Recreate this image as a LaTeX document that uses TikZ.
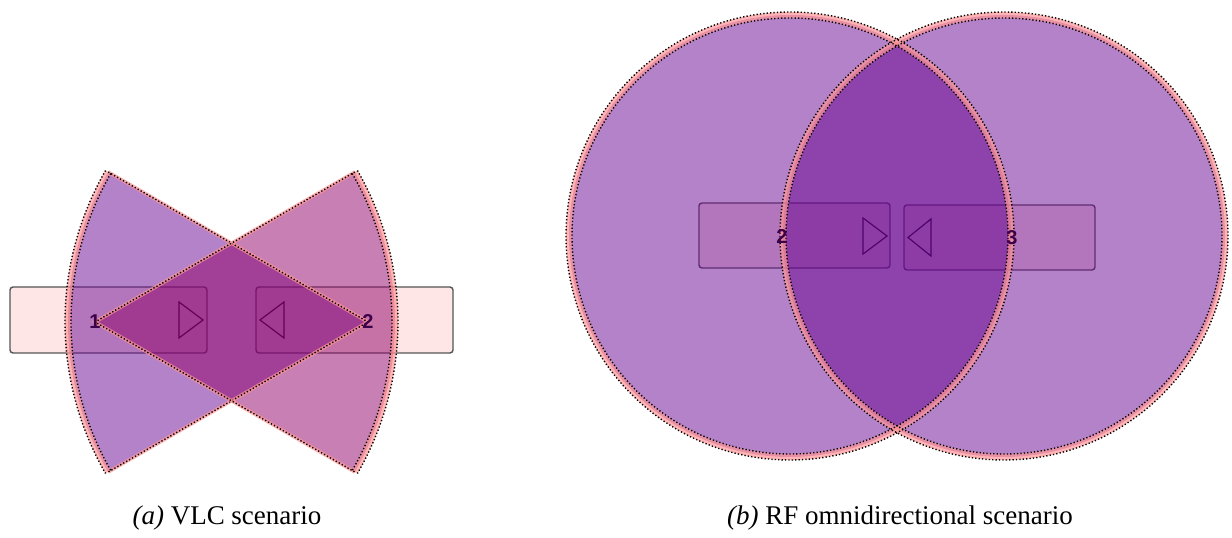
\documentclass[tikz,border=0pt]{standalone}
\usepackage{fontspec}
\setmainfont{Liberation Serif}
\newfontfamily\labfont{Liberation Sans}
\definecolor{purplefill}{RGB}{105,5,145}
\definecolor{pinkfill}{RGB}{145,0,105}
\definecolor{bandcol}{RGB}{255,150,150}
\definecolor{boxfill}{RGB}{255,230,230}
\definecolor{boxline}{RGB}{85,85,85}
\definecolor{labcol}{RGB}{60,0,75}
\begin{document}
\begin{tikzpicture}[x=1pt,y=1pt,
  devbox/.style={draw=boxline, line width=1.4pt, fill=boxfill, rounded corners=3pt, minimum width=197pt, minimum height=66pt, inner sep=0pt},
  tri/.style={draw=black, line width=1.2pt, line join=miter},
  numlabel/.style={font=\labfont\bfseries\fontsize{20}{20}\selectfont, text=labcol, inner sep=0pt},
  zonefill/.style={fill=#1, fill opacity=0.5},
  band/.style={draw=bandcol, draw opacity=0.7, line width=6pt},
  thinband/.style={draw=bandcol, draw opacity=0.7, line width=3.5pt},
  dotline/.style={draw=black, line width=1.4pt, dash pattern=on 1.3pt off 2.1pt},
  caption/.style={font=\fontsize{27}{30}\selectfont, anchor=base, inner sep=0pt}
]
\useasboundingbox (0,0) rectangle (1232,538);

% ---------- (a) VLC scenario ----------
\node[devbox] (boxA) at (108.5,218) {};
\node[devbox] (boxB) at (354.5,218) {};
\draw[tri] (179,236) -- (179,200) -- (203,218) -- cycle;
\draw[tri] (284,236) -- (284,200) -- (260,218) -- cycle;
\coordinate (apexA) at (95,216);
\coordinate (apexB) at (368,216);

% sector of node 2 (opening left)
\begin{scope}[shift={(apexB)}]
  \fill[zonefill=purplefill] (0,0) -- (150:300) arc[start angle=150, end angle=210, radius=300] -- cycle;
\end{scope}
% sector of node 1 (opening right)
\begin{scope}[shift={(apexA)}]
  \fill[zonefill=pinkfill] (0,0) -- (30:300) arc[start angle=30, end angle=-30, radius=300] -- cycle;
\end{scope}
% borders
\begin{scope}[shift={(apexB)}]
  \draw[thinband] (150:300) -- (0,0) -- (210:300);
  \draw[band] (150:300) arc[start angle=150, end angle=210, radius=300];
  \draw[dotline] (150:300) -- (0,0) -- (210:300);
  \draw[dotline] (150:303) arc[start angle=150, end angle=210, radius=303];
  \draw[dotline] (150:297) arc[start angle=150, end angle=210, radius=297];
\end{scope}
\begin{scope}[shift={(apexA)}]
  \draw[thinband] (30:300) -- (0,0) -- (-30:300);
  \draw[band] (30:300) arc[start angle=30, end angle=-30, radius=300];
  \draw[dotline] (30:300) -- (0,0) -- (-30:300);
  \draw[dotline] (30:303) arc[start angle=30, end angle=-30, radius=303];
  \draw[dotline] (30:297) arc[start angle=30, end angle=-30, radius=297];
\end{scope}
\node[numlabel] (labA) at (95,216) {1};
\node[numlabel] (labB) at (368,216) {2};

% ---------- (b) RF omnidirectional scenario ----------
\node[devbox, minimum width=191pt, minimum height=65pt] (boxC) at (794.5,302.5) {};
\node[devbox, minimum width=191pt, minimum height=65pt] (boxD) at (999.5,300.5) {};
\draw[tri] (863,320) -- (863,284) -- (887,302) -- cycle;
\draw[tri] (931,319) -- (931,282) -- (908,300.5) -- cycle;
\coordinate (cA) at (790,302);
\coordinate (cB) at (1004,302);

\fill[zonefill=purplefill] (cA) circle[radius=221];
\fill[zonefill=purplefill] (cB) circle[radius=221];
\draw[band] (cA) circle[radius=221];
\draw[band] (cB) circle[radius=221];
\draw[dotline] (cA) circle[radius=218];
\draw[dotline] (cA) circle[radius=224];
\draw[dotline] (cB) circle[radius=218];
\draw[dotline] (cB) circle[radius=224];
\node[numlabel] (labC) at (782,301) {2};
\node[numlabel] (labD) at (1012,300) {3};

% ---------- captions ----------
\node[caption] (capA) at (227,13) {\textit{(a)} VLC scenario};
\node[caption] (capB) at (900,13) {\textit{(b)} RF omnidirectional scenario};
\end{tikzpicture}
\end{document}
